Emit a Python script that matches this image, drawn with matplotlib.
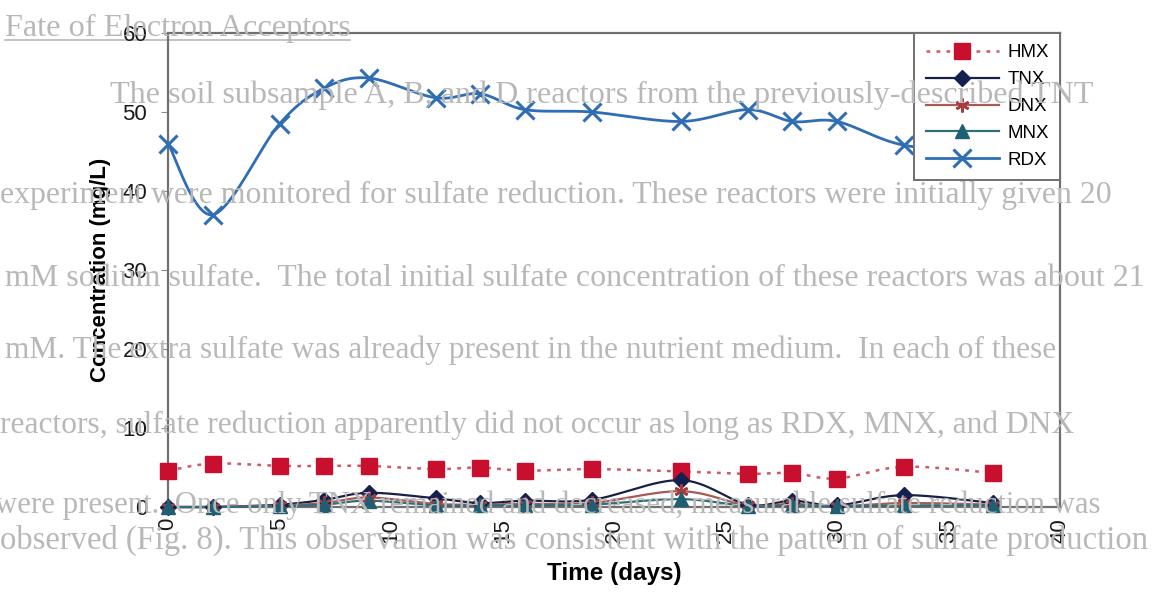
import numpy as np
import matplotlib
matplotlib.use('Agg')
import matplotlib.pyplot as plt
from matplotlib.lines import Line2D

plt.rcParams['font.family'] = ['Liberation Sans', 'DejaVu Sans']

# sampling days and measured concentrations (mg/L)
days = [0, 2, 5, 7, 9, 12, 14, 16, 19, 23, 26, 28, 30, 33, 37]
hmx = [4.6, 5.5, 5.2, 5.2, 5.2, 4.8, 5.0, 4.6, 4.8, 4.5, 4.2, 4.3, 3.6, 5.1, 4.3]
tnx = [0.0, 0.0, 0.3, 0.9, 1.8, 1.1, 0.5, 0.8, 0.9, 3.4, 0.3, 0.8, 0.2, 1.5, 0.5]
dnx = [0.0, 0.0, 0.2, 0.5, 1.2, 0.4, 0.3, 0.4, 0.5, 2.0, 0.2, 0.4, 0.1, 0.5, 0.3]
mnx = [0.0, 0.0, 0.1, 0.3, 0.8, 0.2, 0.2, 0.2, 0.3, 1.0, 0.1, 0.2, 0.1, 0.2, 0.2]
rdx = [46.0, 37.0, 48.5, 53.0, 54.3, 51.8, 52.3, 50.3, 50.0, 48.8, 50.3, 48.8, 48.8, 45.8, 45.0]

# page text printed underneath the figure: (x px, y px, text, width px)
page_lines = [
    (5, 28, "Fate of Electron Acceptors", 345),
    (110, 95, "The soil subsample A, B, and D reactors from the previously-described TNT", 985),
    (0, 195, "experiment were monitored for sulfate reduction. These reactors were initially given 20", 1110),
    (5, 278, "mM sodium sulfate.  The total initial sulfate concentration of these reactors was about 21", 1140),
    (5, 350, "mM. The extra sulfate was already present in the nutrient medium.  In each of these", 1050),
    (0, 425, "reactors, sulfate reduction apparently did not occur as long as RDX, MNX, and DNX", 1075),
    (-5, 505, "were present.  Once only TNX remained and decreased, measurable sulfate reduction was", 1105),
    (0, 540, "observed (Fig. 8). This observation was consistent with the pattern of sulfate production", 1150),
]

W, H = 1157, 603


def smooth(x, y, n=30):
    # Bezier smoothing through every point (spreadsheet-style smoothed line)
    x = np.asarray(x, float)
    y = np.asarray(y, float)
    px = np.concatenate([[x[0]], x, [x[-1]]])
    py = np.concatenate([[y[0]], y, [y[-1]]])
    xs, ys = [], []
    t = np.linspace(0, 1, n)
    for i in range(1, len(px) - 2):
        p0 = np.array([px[i], py[i]])
        p3 = np.array([px[i + 1], py[i + 1]])
        c1 = p0 + (p3 - np.array([px[i - 1], py[i - 1]])) / 6
        c2 = p3 - (np.array([px[i + 2], py[i + 2]]) - p0) / 6
        b = ((1 - t) ** 3)[:, None] * p0 + (3 * (1 - t) ** 2 * t)[:, None] * c1 \
            + (3 * (1 - t) * t ** 2)[:, None] * c2 + (t ** 3)[:, None] * p3
        xs.append(b[:, 0])
        ys.append(b[:, 1])
    return np.concatenate(xs), np.concatenate(ys)


fig = plt.figure(figsize=(W / 100, H / 100), dpi=100)
fig.patch.set_facecolor('white')

txt_color = '#b8b8b8'
texts = []
for x0, yc, s, target in page_lines:
    t = fig.text(x0 / W, 1 - yc / H, s, family='Liberation Serif', fontsize=17,
                 color=txt_color, va='center', ha='left', zorder=0)
    texts.append((t, target))
fig.canvas.draw()
r = fig.canvas.get_renderer()
for t, target in texts:
    w = t.get_window_extent(r).width
    t.set_fontsize(17 * target / w)
# underline under the section heading
fig.add_artist(Line2D([5 / W, 350 / W], [1 - 40 / H, 1 - 40 / H], color=txt_color, lw=1.2, zorder=0))

ax = fig.add_axes([168 / W, (H - 507) / H, (1060 - 168) / W, (507 - 33) / H])
ax.set_facecolor('none')
ax.set_xlim(0, 40)
ax.set_ylim(0, 60)
ax.set_xticks(range(0, 41, 5))
ax.set_yticks(range(0, 61, 10))

for sp in ax.spines.values():
    sp.set_color('#707070')
    sp.set_linewidth(1.6)

ax.tick_params(axis='x', direction='in', length=5, color='#8a8a8a', labelsize=16,
               labelrotation=90, pad=8, labelcolor='#1a1a1a')
ax.tick_params(axis='y', direction='out', length=5, color='#8a8a8a', labelsize=16,
               pad=10, labelcolor='#1a1a1a')

series = [
    ('HMX', hmx, dict(color='#cc5a64', ls=(0, (1.5, 2.5)), lw=1.8),
     dict(marker='s', ms=12, mfc='#c8102e', mec='#c8102e')),
    ('TNX', tnx, dict(color='#1a1f45', ls='-', lw=1.6),
     dict(marker='D', ms=8, mfc='#14204f', mec='#14204f')),
    ('DNX', dnx, dict(color='#a85a55', ls='-', lw=1.6),
     dict(marker=(6, 2, 0), ms=10, mfc='#a83c3c', mec='#a83c3c', mew=1.8)),
    ('MNX', mnx, dict(color='#2f6d78', ls='-', lw=1.6),
     dict(marker='^', ms=10, mfc='#1f5f73', mec='#1f5f73')),
    ('RDX', rdx, dict(color='#2f6db5', ls='-', lw=2.0),
     dict(marker='x', ms=13, mfc='#2f6db5', mec='#2f6db5', mew=2.2)),
]

handles = []
for name, vals, lstyle, mstyle in series:
    sx, sy = smooth(days, vals)
    ax.plot(sx, sy, clip_on=False, zorder=3, **lstyle)
    ax.plot(days, vals, ls='none', clip_on=False, zorder=4, **mstyle)
    handles.append(Line2D([], [], **lstyle, **mstyle))

leg = ax.legend(handles, [s[0] for s in series], loc='upper right',
                bbox_to_anchor=(1.0, 1.0), frameon=True, fancybox=False,
                framealpha=1, edgecolor='#707070', handlelength=3.9,
                borderaxespad=0, borderpad=0.6, labelspacing=0.52,
                handletextpad=0.45, prop=dict(size=13.5))
leg.get_frame().set_linewidth(1.4)
leg.set_zorder(6)

ax.set_ylabel('Concentration (mg/L)', fontsize=16, fontweight='bold', labelpad=8)
ax.set_xlabel('Time (days)', fontsize=17.5, fontweight='bold', labelpad=14)

fig.savefig('out.png', dpi=100, facecolor='white')
